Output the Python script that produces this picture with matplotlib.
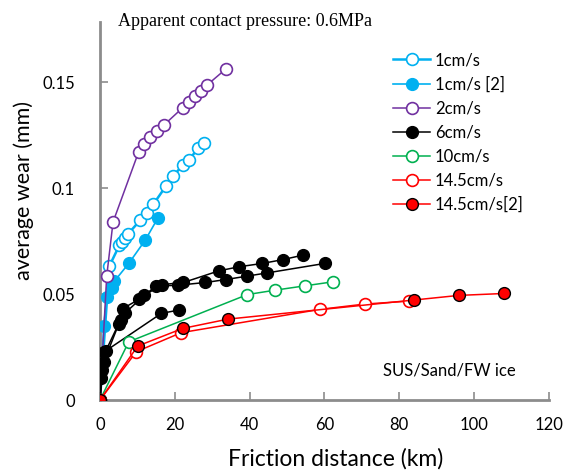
import matplotlib
matplotlib.use("Agg")
import matplotlib.pyplot as plt

# Data (km, mm)
x_1cm = [0, 2.5, 5.2, 5.8, 6.6, 7.6, 10.8, 12.6, 14.3, 17.7, 19.5, 22.1, 23.7, 26.3, 27.9]
y_1cm = [0, 0.0632, 0.0731, 0.0747, 0.0763, 0.0786, 0.085, 0.0885, 0.0925, 0.1012, 0.1057, 0.1108, 0.1132, 0.119, 0.1214]

x_1cm2 = [0, 1.0, 1.8, 3.2, 3.8, 7.7, 12.1, 15.5]
y_1cm2 = [0, 0.035, 0.0487, 0.053, 0.056, 0.0645, 0.0755, 0.086]

x_2cm = [0, 1.8, 3.5, 10.3, 11.9, 13.5, 15.3, 17.0, 22.1, 23.7, 25.4, 27.1, 28.6, 33.7]
y_2cm = [0, 0.0585, 0.0841, 0.117, 0.1208, 0.124, 0.127, 0.1297, 0.138, 0.1408, 0.1434, 0.1459, 0.1487, 0.1564]

x_6cm_a = [0, 0.6, 1.5, 5.0, 6.6, 11.9, 16.6, 22.3, 31.8, 37.1, 43.4, 48.9, 54.2]
y_6cm_a = [0, 0.0142, 0.023, 0.036, 0.0409, 0.0495, 0.0545, 0.0555, 0.061, 0.0629, 0.0645, 0.0663, 0.0684]
x_6cm_b = [0, 0.3, 1.0, 5.5, 6.1, 10.4, 15.0, 20.8, 28.2, 33.7, 39.3, 44.6, 60.1]
y_6cm_b = [0, 0.0102, 0.018, 0.038, 0.0432, 0.0475, 0.0538, 0.0542, 0.0555, 0.0569, 0.0585, 0.06, 0.0645]
x_6cm_c = [0, 1.2, 16.4, 21.1]
y_6cm_c = [0, 0.0228, 0.0409, 0.0425]

x_10cm = [0, 7.7, 39.4, 46.9, 54.7, 62.2]
y_10cm = [0, 0.0275, 0.0498, 0.0519, 0.0539, 0.0558]

x_145cm = [0, 9.7, 21.7, 58.8, 70.7, 82.6]
y_145cm = [0, 0.0228, 0.0318, 0.0428, 0.0453, 0.0467]

x_145cm2 = [0, 10.1, 22.1, 34.2, 83.8, 95.9, 107.9]
y_145cm2 = [0, 0.0255, 0.0338, 0.0382, 0.0472, 0.0494, 0.0503]

blue = '#00B0F0'
purple = '#7030A0'
green = '#00B050'
red = '#FF0000'
font = 'Lato'
ms = 8.5

fig = plt.figure(figsize=(5.68, 4.71), dpi=100)
ax = fig.add_axes([0.176, 0.1507, 0.7905, 0.8026])

ax.plot(x_1cm, y_1cm, '-o', color=blue, lw=1.8, ms=ms, mfc='white', mec=blue, mew=1.2,
        label='1cm/s', zorder=3)
ax.plot(x_1cm2, y_1cm2, '-o', color=blue, lw=1.2, ms=ms, mfc=blue, mec=blue,
        label='1cm/s [2]', zorder=3)
ax.plot(x_2cm, y_2cm, '-o', color=purple, lw=1.1, ms=ms, mfc='white', mec=purple, mew=1.2,
        label='2cm/s', zorder=3)
ax.plot(x_6cm_a, y_6cm_a, '-o', color='black', lw=1.1, ms=ms, mfc='black', mec='black',
        label='6cm/s', zorder=3)
ax.plot(x_6cm_b, y_6cm_b, '-o', color='black', lw=1.1, ms=ms, mfc='black', mec='black', zorder=3)
ax.plot(x_6cm_c, y_6cm_c, '-o', color='black', lw=1.1, ms=ms, mfc='black', mec='black', zorder=3)
ax.plot(x_10cm, y_10cm, '-o', color=green, lw=1.1, ms=ms, mfc='white', mec=green, mew=1.2,
        label='10cm/s', zorder=3)
ax.plot(x_145cm, y_145cm, '-o', color=red, lw=1.1, ms=ms, mfc='white', mec=red, mew=1.2,
        label='14.5cm/s', zorder=3)
ax.plot(x_145cm2, y_145cm2, '-o', color=red, lw=1.1, ms=ms, mfc=red, mec='black', mew=1.0,
        label='14.5cm/s[2]', zorder=4)

ax.set_xlim(0, 120)
ax.set_ylim(0, 0.1785)
ax.set_xticks([0, 20, 40, 60, 80, 100, 120])
ax.set_yticks([0, 0.05, 0.1, 0.15])
ax.set_yticklabels(['0', '0.05', '0.1', '0.15'])

for side in ['top', 'right']:
    ax.spines[side].set_visible(False)
for side in ['left', 'bottom']:
    ax.spines[side].set_color('#8C8C8C')
    ax.spines[side].set_linewidth(2)
ax.tick_params(direction='in', length=6, width=1.2, color='#8C8C8C', labelsize=12)
ax.tick_params(axis='x', pad=12)
ax.tick_params(axis='y', pad=18)
for lab in ax.get_xticklabels() + ax.get_yticklabels():
    lab.set_family(font)

ax.set_xlabel('Friction distance (km)', fontsize=16.5, family=font)
ax.xaxis.set_label_coords(0.525, -0.126)
ax.set_ylabel('average wear (mm)', fontsize=15.5, family=font)
ax.yaxis.set_label_coords(-0.147, 0.555)

fig.text(118 / 568, 1 - 22 / 471, 'Apparent contact pressure: 0.6MPa',
         family='Liberation Serif', fontsize=13, va='center', ha='left')
ax.text(383 / 568, 1 - 370 / 471, 'SUS/Sand/FW ice', transform=fig.transFigure,
        family=font, fontsize=12, va='center', ha='left')

leg = ax.legend(loc='upper left', bbox_to_anchor=(385 / 568, 1 - 44 / 471),
                bbox_transform=fig.transFigure, frameon=False,
                prop={'family': font, 'size': 12}, handlelength=2.2,
                handletextpad=0.3, labelspacing=0.48, borderpad=0)

fig.savefig('out.png', dpi=100)
